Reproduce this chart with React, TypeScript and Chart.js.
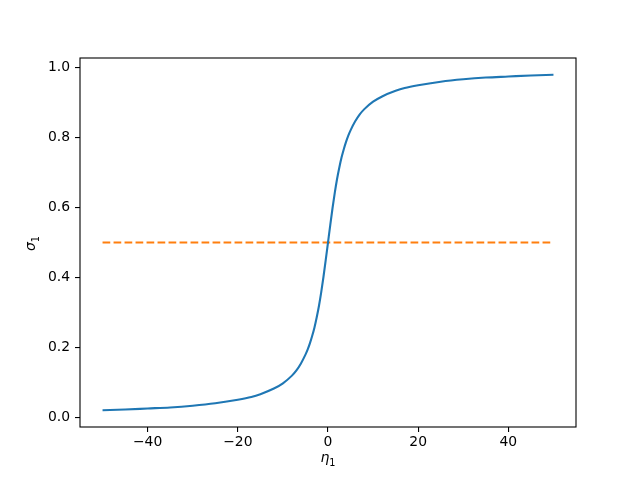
import React, { useEffect, useRef } from "react";
import { Chart, registerables } from "chart.js";

Chart.register(...registerables);

// eta_1 values (x) and sigma_1 values (y)
const etaValues = [
  -50, -45, -40, -35, -30, -25, -20, -17, -15, -12, -10, -8, -7, -6, -5, -4.5, -4, -3.5, -3, -2.5, -2, -1.5, -1, -0.5,
  0, 0.5, 1, 1.5, 2, 2.5, 3, 3.5, 4, 4.5, 5, 6, 7, 8, 10, 12, 15, 17, 20, 25, 30, 35, 40, 45, 50,
];
const sigmaValues = [
  0.020, 0.022, 0.025, 0.028, 0.033, 0.040, 0.050, 0.058, 0.066, 0.082, 0.097, 0.119, 0.134, 0.154, 0.179, 0.194,
  0.212, 0.233, 0.257, 0.286, 0.319, 0.358, 0.402, 0.450,
  0.500, 0.550, 0.598, 0.642, 0.681, 0.714, 0.743, 0.767, 0.788, 0.806, 0.821, 0.846, 0.866, 0.881, 0.903, 0.918,
  0.934, 0.942, 0.950, 0.960, 0.967, 0.972, 0.975, 0.978, 0.980,
];
const thresholdEta = [-50, 50];
const thresholdSigma = [0.5, 0.5];

const xTicks = [-40, -20, 0, 20, 40];
const yTicks = [0, 0.2, 0.4, 0.6, 0.8, 1.0];

const FONT = "DejaVu Sans";

function drawMathLabel(ctx: CanvasRenderingContext2D, main: string, sub: string, cx: number, cy: number, rotate: boolean) {
  ctx.save();
  ctx.translate(cx, cy);
  if (rotate) ctx.rotate(-Math.PI / 2);
  ctx.fillStyle = "#000";
  ctx.textBaseline = "alphabetic";
  ctx.textAlign = "left";
  ctx.font = `italic 14px "${FONT}"`;
  const w1 = ctx.measureText(main).width;
  ctx.font = `9.7px "${FONT}"`;
  const w2 = ctx.measureText(sub).width;
  const start = -(w1 + w2) / 2;
  ctx.font = `italic 14px "${FONT}"`;
  ctx.fillText(main, start, 0);
  ctx.font = `9.7px "${FONT}"`;
  ctx.fillText(sub, start + w1, 4);
  ctx.restore();
}

const framePlugin = {
  id: "frameAndLabels",
  afterDraw(chart: any) {
    const { ctx, chartArea } = chart;
    ctx.save();
    ctx.strokeStyle = "#000";
    ctx.lineWidth = 1.1;
    ctx.strokeRect(chartArea.left, chartArea.top, chartArea.right - chartArea.left, chartArea.bottom - chartArea.top);
    ctx.restore();
    drawMathLabel(ctx, "η", "1", (chartArea.left + chartArea.right) / 2, 462, false);
    drawMathLabel(ctx, "σ", "1", 35, 243.5, true);
  },
};

export default function App() {
  const ref = useRef<HTMLCanvasElement>(null);
  useEffect(() => {
    if (!ref.current) return;
    const chart = new Chart(ref.current, {
      type: "line",
      data: {
        datasets: [
          {
            data: etaValues.map((x, i) => ({ x, y: sigmaValues[i] })),
            borderColor: "#1f77b4",
            borderWidth: 2.1,
            pointRadius: 0,
            cubicInterpolationMode: "monotone",
            fill: false,
          },
          {
            data: thresholdEta.map((x, i) => ({ x, y: thresholdSigma[i] })),
            borderColor: "#ff7f0e",
            borderWidth: 2.1,
            borderDash: [7.7, 3.3],
            pointRadius: 0,
            fill: false,
          },
        ],
      },
      options: {
        responsive: false,
        animation: false,
        layout: { padding: { left: 0, top: 58, right: 64, bottom: 0 } },
        plugins: { legend: { display: false }, tooltip: { enabled: false } },
        scales: {
          x: {
            type: "linear",
            min: -55,
            max: 55,
            afterBuildTicks: (s: any) => {
              s.ticks = xTicks.map((v) => ({ value: v }));
            },
            afterFit: (s: any) => {
              s.height = 53;
            },
            ticks: {
              color: "#000",
              font: { family: FONT, size: 13.9 },
              padding: 2,
              maxRotation: 0,
              callback: (v: any) => String(v).replace("-", "\u2212"),
            },
            grid: { drawOnChartArea: false, drawTicks: true, tickLength: 5, color: "#000", lineWidth: 1.1 },
            border: { display: false },
          },
          y: {
            type: "linear",
            min: -0.028,
            max: 1.028,
            afterBuildTicks: (s: any) => {
              s.ticks = yTicks.map((v) => ({ value: v }));
            },
            afterFit: (s: any) => {
              s.width = 80;
            },
            ticks: {
              color: "#000",
              font: { family: FONT, size: 13.9 },
              padding: 5,
              callback: (v: any) => Number(v).toFixed(1),
            },
            grid: { drawOnChartArea: false, drawTicks: true, tickLength: 5, color: "#000", lineWidth: 1.1 },
            border: { display: false },
          },
        },
      },
      plugins: [framePlugin],
    } as any);
    return () => chart.destroy();
  }, []);
  return (
    <div style={{ position: "fixed", left: 0, top: 0, width: 640, height: 480, background: "#fff" }}>
      <canvas ref={ref} width={640} height={480} style={{ width: 640, height: 480 }} />
    </div>
  );
}
